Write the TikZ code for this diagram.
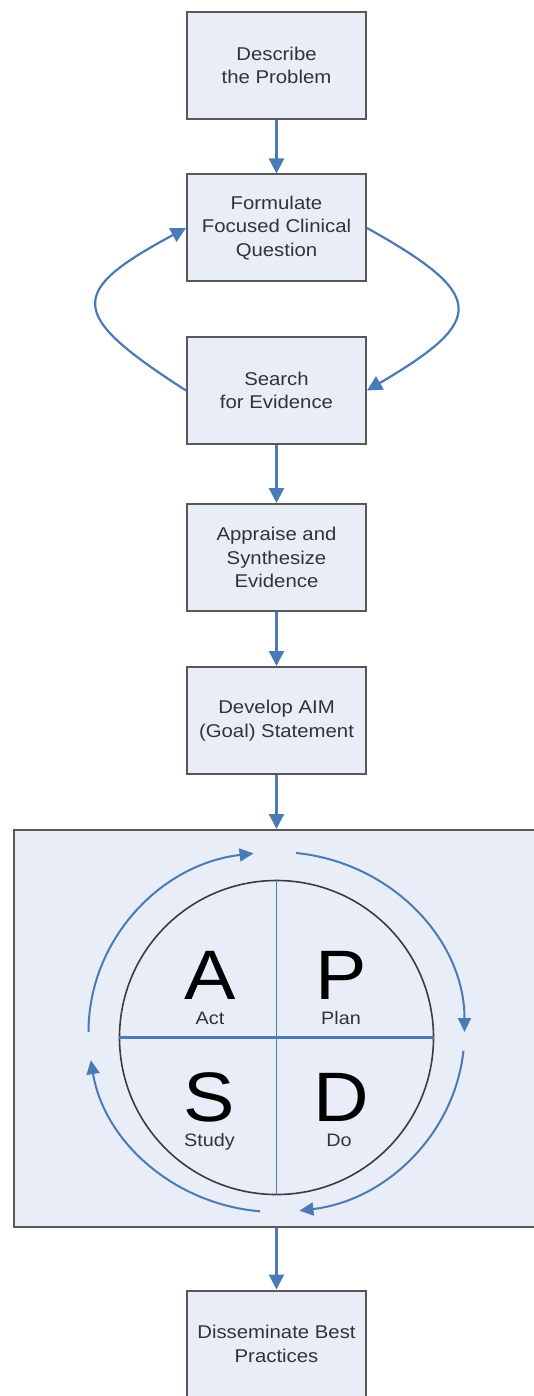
\documentclass[tikz,border=0pt]{standalone}
\usepackage{fontspec}
\setmainfont{Liberation Sans}[FakeStretch=1.1]
\usetikzlibrary{arrows.meta,calc}
\definecolor{conn}{HTML}{4A7BB7}
\definecolor{boxfill}{HTML}{E8EDF7}
\definecolor{boxline}{HTML}{585858}
\definecolor{txt}{HTML}{333333}
\definecolor{ringline}{HTML}{3C3C3C}
\begin{document}
\begin{tikzpicture}[x=1pt,y=1pt,
  stepbox/.style={draw=boxline, line width=2pt, fill=boxfill, minimum width=179pt, minimum height=107pt, align=center, text=txt, font=\fontsize{18.5}{23.5}\selectfont, inner sep=0pt},
  flow/.style={draw=conn, line width=2.2pt, -{Triangle[length=15pt,width=15pt]}},
  cyc/.style={draw=conn, line width=2pt, -{Triangle[length=14pt,width=13pt]}},
  bigletter/.style={font=\fontsize{70}{70}\selectfont, anchor=base, inner sep=0pt, text=black},
  smalllabel/.style={font=\fontsize{18}{20}\selectfont, anchor=base, inner sep=0pt, text=txt}]
\path[use as bounding box, clip] (0,0) rectangle (534,-1396);
\fill[white] (0,0) rectangle (534,-1396);

% container of the PDSA cycle
\node[draw=boxline, line width=2pt, fill=boxfill, minimum width=546pt, minimum height=397pt, inner sep=0pt] (pdsa) at (287,-1028.5) {};

% process boxes
\node[stepbox] (b1) at (276.5,-65.5) {Describe\\the Problem};
\node[stepbox] (b2) at (276.5,-228) {Formulate\\Focused Clinical\\Question};
\node[stepbox] (b3) at (276.5,-390.5) {Search\\for Evidence};
\node[stepbox] (b4) at (276.5,-557.5) {Appraise and\\Synthesize\\Evidence};
\node[stepbox] (b5) at (276.5,-720.5) {Develop AIM\\(Goal) Statement};
\node[stepbox] (b6) at (276.5,-1344) {Disseminate Best\\Practices};

% connectors
\draw[flow] (b1.south) -- (b2.north);
\draw[flow] (b3.south) -- (b4.north);
\draw[flow] (b4.south) -- (b5.north);
\draw[flow] (b5.south) -- (b5.south |- pdsa.north);
\draw[flow] (pdsa.south -| b6.north) -- (b6.north);
\draw[flow] (b3.west) .. controls (67,-314) and (67,-292) .. (b2.west);
\draw[flow] (b2.east) .. controls (487,-295) and (487,-320) .. (b3.east);

% circle with quadrants
\node[circle, draw=ringline, line width=1.6pt, minimum size=314pt, inner sep=0pt] (circ) at (276.5,-1037.5) {};
\draw[conn, line width=1.6pt] (circ.north) -- (circ.south);
\draw[conn, line width=2.2pt] (circ.west) -- (circ.east);

% outer cycle arrows
\coordinate (oc) at (276.5,-1032);
\draw[cyc] (oc) ++(84:188pt and 180pt) arc[start angle=84, end angle=0, x radius=188pt, y radius=180pt];
\draw[cyc] (oc) ++(-6:188pt and 180pt) arc[start angle=-6, end angle=-83, x radius=188pt, y radius=180pt];
\draw[cyc] (oc) ++(-95:188pt and 180pt) arc[start angle=-95, end angle=-171, x radius=188pt, y radius=180pt];
\draw[cyc] (oc) ++(180:188pt and 180pt) arc[start angle=180, end angle=97, x radius=188pt, y radius=180pt];

% letters
\node[bigletter] (lA) at (210,-999) {A};
\node[bigletter] (lP) at (341,-999) {P};
\node[bigletter] (lS) at (209,-1121) {S};
\node[bigletter] (lD) at (341,-1121) {D};
\node[smalllabel] (tA) at (210,-1024) {Act};
\node[smalllabel] (tP) at (341,-1024) {Plan};
\node[smalllabel] (tS) at (209.5,-1146) {Study};
\node[smalllabel] (tD) at (339,-1146) {Do};
\end{tikzpicture}
\end{document}
